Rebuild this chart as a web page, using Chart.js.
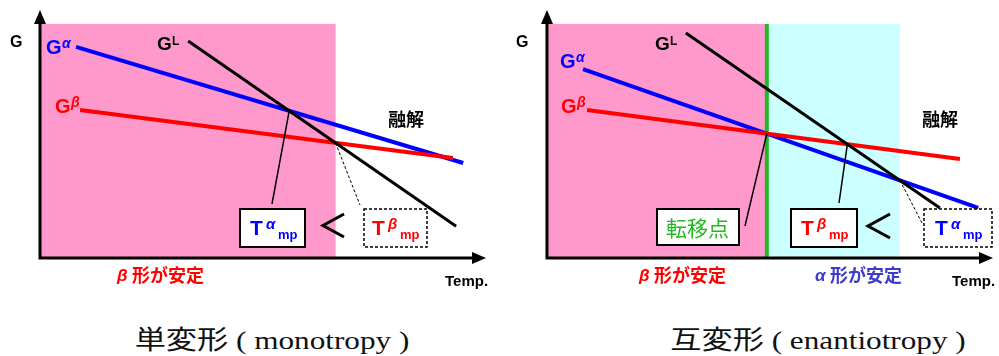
<!DOCTYPE html>
<html>
<head>
<meta charset="utf-8">
<script src="https://cdn.jsdelivr.net/npm/chart.js@4"></script>
<style>
  body { margin: 0; background: #fff; width: 999px; height: 356px; overflow: hidden; position: relative; }
  canvas { position: absolute; top: 0; }
  #mono { left: 0; }
  #enan { left: 500px; }
  .cap {
    position: absolute; top: 319px; white-space: nowrap; color: #111;
    font: 26px "Liberation Serif", "Noto Sans CJK JP", serif;
    transform: translateX(-50%) scaleX(1.2);
  }
</style>
</head>
<body>
<canvas id="mono" width="500" height="300"></canvas>
<canvas id="enan" width="499" height="300"></canvas>
<div class="cap" style="left:272px">単変形 ( monotropy )</div>
<div class="cap" style="left:818px">互変形 ( enantiotropy )</div>
<script>
// temperature (0-100) and free energy G (0-100), arbitrary units, 2 points per line
// monotropy
const monoAlphaT = [8.1, 95.1];
const monoAlphaG = [85.1, 38.3];
const monoBetaT = [9.0, 92.8];
const monoBetaG = [59.7, 40.3];
const monoLiqT = [33.3, 93.5];
const monoLiqG = [87.5, 12.8];
// enantiotropy
const enanAlphaT = [8.1, 96.9];
const enanAlphaG = [76.2, 20.2];
const enanBetaT = [9.0, 92.8];
const enanBetaG = [59.7, 39.9];
const enanLiqT = [31.2, 88.3];
const enanLiqG = [90.7, 20.2];

const regionTopG = 94.4;

const BLUE = '#0000ff', RED = '#ff0000', BLACK = '#000000';
const PINK = '#ff99cc', CYAN = '#ccffff', GREEN = '#22b822';
const SANS = '"Liberation Sans", Arial, sans-serif';
const JP = '"Noto Sans CJK JP", sans-serif';

// where two straight lines cross
function cross(at, ag, bt, bg) {
  const s1 = (ag[1] - ag[0]) / (at[1] - at[0]);
  const s2 = (bg[1] - bg[0]) / (bt[1] - bt[0]);
  const x = (bg[0] - ag[0] + s1 * at[0] - s2 * bt[0]) / (s1 - s2);
  return { x: x, y: ag[0] + s1 * (x - at[0]) };
}

function txt(ctx, s, x, y, font, color, base) {
  ctx.font = font;
  ctx.fillStyle = color;
  ctx.textAlign = 'left';
  ctx.textBaseline = base || 'alphabetic';
  ctx.fillText(s, x, y);
}

function makeDiagram(cfg) {
  return {
    id: 'diagram',
    beforeDatasetsDraw(chart) {
      const { ctx, scales: { x, y } } = chart;
      ctx.save();
      const top = y.getPixelForValue(regionTopG), bot = y.getPixelForValue(0);
      cfg.regions.forEach(r => {
        const x1 = x.getPixelForValue(r.from), x2 = x.getPixelForValue(r.to);
        ctx.fillStyle = r.color;
        ctx.fillRect(x1, top, x2 - x1, bot - top);
      });
      if (cfg.divider != null) {
        const px = x.getPixelForValue(cfg.divider);
        ctx.strokeStyle = GREEN;
        ctx.lineWidth = 4;
        ctx.beginPath();
        ctx.moveTo(px, top);
        ctx.lineTo(px, bot);
        ctx.stroke();
      }
      // axes with arrow heads
      const ox = x.left, oy = y.bottom;
      ctx.strokeStyle = BLACK;
      ctx.fillStyle = BLACK;
      ctx.lineWidth = 3;
      ctx.beginPath();
      ctx.moveTo(ox, oy + 1.5);
      ctx.lineTo(ox, y.top + 12);
      ctx.moveTo(ox - 1.5, oy);
      ctx.lineTo(x.right - 12, oy);
      ctx.stroke();
      ctx.beginPath();
      ctx.moveTo(ox - 6, y.top + 14);
      ctx.lineTo(ox + 6, y.top + 14);
      ctx.lineTo(ox, y.top);
      ctx.closePath();
      ctx.fill();
      ctx.beginPath();
      ctx.moveTo(x.right - 13, oy - 6);
      ctx.lineTo(x.right - 13, oy + 6);
      ctx.lineTo(x.right + 1, oy);
      ctx.closePath();
      ctx.fill();
      ctx.restore();
    },
    afterDatasetsDraw(chart) {
      const { ctx, scales: { x, y } } = chart;
      ctx.save();
      ctx.strokeStyle = BLACK;
      cfg.leaders.forEach(l => {
        ctx.lineWidth = l.dash ? 1 : 1.5;
        ctx.setLineDash(l.dash ? [3, 2] : []);
        ctx.beginPath();
        ctx.moveTo(x.getPixelForValue(l.from.x), y.getPixelForValue(l.from.y));
        ctx.lineTo(l.to[0], l.to[1]);
        ctx.stroke();
      });
      cfg.boxes.forEach(b => {
        ctx.setLineDash([]);
        ctx.fillStyle = '#fff';
        ctx.fillRect(b[0], b[1], b[2] - b[0], b[3] - b[1]);
        ctx.lineWidth = b[4] ? 1.5 : 2;
        ctx.setLineDash(b[4] ? [3, 2] : []);
        ctx.strokeRect(b[0], b[1], b[2] - b[0], b[3] - b[1]);
      });
      ctx.setLineDash([]);
      ctx.lineWidth = 3;
      ctx.beginPath();
      ctx.moveTo(cfg.less[2], cfg.less[1]);
      ctx.lineTo(cfg.less[0], (cfg.less[1] + cfg.less[3]) / 2);
      ctx.lineTo(cfg.less[2], cfg.less[3]);
      ctx.stroke();
      cfg.labels.forEach(t => txt(ctx, t[0], t[1], t[2], t[3], t[4], t[5]));
      ctx.restore();
    }
  };
}

function makeChart(id, lines, pad, cfg) {
  return new Chart(document.getElementById(id), {
    type: 'line',
    data: {
      datasets: lines.map(l => ({
        data: l.t.map((t, i) => ({ x: t, y: l.g[i] })),
        borderColor: l.color,
        borderWidth: l.w,
        pointRadius: 0,
        tension: 0,
        fill: false
      }))
    },
    options: {
      responsive: false,
      animation: false,
      layout: { padding: pad },
      scales: {
        x: { type: 'linear', min: 0, max: 100, display: false },
        y: { type: 'linear', min: 0, max: 100, display: false }
      },
      plugins: { legend: { display: false }, tooltip: { enabled: false } }
    },
    plugins: [makeDiagram(cfg)]
  });
}

// labels: [text, x, y, font, color, baseline]
function gLabels(gx, gy, sup, color, supItalic) {
  return [
    ['G', gx, gy, 'bold 20px ' + SANS, color],
    [sup, gx + 16, gy - 6, (supItalic ? 'italic ' : '') + 'bold 14px ' + SANS, color]
  ];
}
function tLabels(tx, sup, color) {
  return [
    ['T', tx, 235, 'bold 21px ' + SANS, color],
    [sup, tx + 16, 229, 'italic bold 15px ' + SANS, color],
    ['mp', tx + 28, 239, 'bold 13px ' + SANS, color]
  ];
}

// left: monotropy
const monoAB = cross(monoAlphaT, monoAlphaG, monoLiqT, monoLiqG);
const monoBL = cross(monoBetaT, monoBetaG, monoLiqT, monoLiqG);
makeChart('mono', [
  { t: monoLiqT, g: monoLiqG, color: BLACK, w: 3 },
  { t: monoBetaT, g: monoBetaG, color: RED, w: 4 },
  { t: monoAlphaT, g: monoAlphaG, color: BLUE, w: 4 }
], { left: 40, right: 15, top: 10, bottom: 42 }, {
  regions: [{ from: 0, to: monoBL.x, color: PINK }],
  divider: null,
  leaders: [
    { from: monoAB, to: [272, 204] },
    { from: monoBL, to: [360, 205], dash: true }
  ],
  boxes: [[240, 209, 305, 247], [364, 209, 427, 247, true]],
  less: [323, 214, 344, 237],
  labels: [
    ['G', 10, 47, 'bold 16px ' + SANS, BLACK],
    ...gLabels(46, 54, 'α', BLUE, true),
    ...gLabels(55, 113, 'β', RED, true),
    ['G', 157, 50, 'bold 19px ' + SANS, BLACK],
    ['L', 172, 45, 'bold 12px ' + SANS, BLACK],
    ['融解', 388, 119, 'bold 18px ' + JP, BLACK, 'middle'],
    ...tLabels(250, 'α', BLUE),
    ...tLabels(372, 'β', RED),
    ['β', 117, 281, 'italic bold 17px ' + SANS, RED],
    ['形が安定', 132, 275, 'bold 18px ' + JP, RED, 'middle'],
    ['Temp.', 445, 286, 'bold 15px ' + SANS, BLACK]
  ]
});

// right: enantiotropy
const enanTr = cross(enanAlphaT, enanAlphaG, enanBetaT, enanBetaG);
const enanBL = cross(enanBetaT, enanBetaG, enanLiqT, enanLiqG);
const enanAL = cross(enanAlphaT, enanAlphaG, enanLiqT, enanLiqG);
makeChart('enan', [
  { t: enanLiqT, g: enanLiqG, color: BLACK, w: 3 },
  { t: enanBetaT, g: enanBetaG, color: RED, w: 4 },
  { t: enanAlphaT, g: enanAlphaG, color: BLUE, w: 4 }
], { left: 47, right: 7, top: 10, bottom: 42 }, {
  regions: [
    { from: 0, to: enanTr.x, color: PINK },
    { from: enanTr.x, to: enanAL.x, color: CYAN }
  ],
  divider: enanTr.x,
  leaders: [
    { from: enanTr, to: [245, 226] },
    { from: enanBL, to: [339, 203] },
    { from: enanAL, to: [422, 223], dash: true }
  ],
  boxes: [[157, 209, 239, 245], [291, 209, 357, 247], [424, 209, 492, 247, true]],
  less: [368, 214, 390, 238],
  labels: [
    ['G', 16, 47, 'bold 16px ' + SANS, BLACK],
    ...gLabels(60, 68, 'α', BLUE, true),
    ...gLabels(61, 113, 'β', RED, true),
    ['G', 155, 50, 'bold 19px ' + SANS, BLACK],
    ['L', 170, 45, 'bold 12px ' + SANS, BLACK],
    ['融解', 422, 119, 'bold 18px ' + JP, BLACK, 'middle'],
    ['転移点', 166, 228, '21px ' + JP, GREEN, 'middle'],
    ...tLabels(301, 'β', RED),
    ...tLabels(435, 'α', BLUE),
    ['β', 139, 281, 'italic bold 17px ' + SANS, RED],
    ['形が安定', 154, 275, 'bold 18px ' + JP, RED, 'middle'],
    ['α', 315, 281, 'italic bold 17px ' + SANS, '#3c3ccc'],
    ['形が安定', 330, 275, 'bold 18px ' + JP, '#3c3ccc', 'middle'],
    ['Temp.', 452, 286, 'bold 15px ' + SANS, BLACK]
  ]
});
</script>
</body>
</html>
